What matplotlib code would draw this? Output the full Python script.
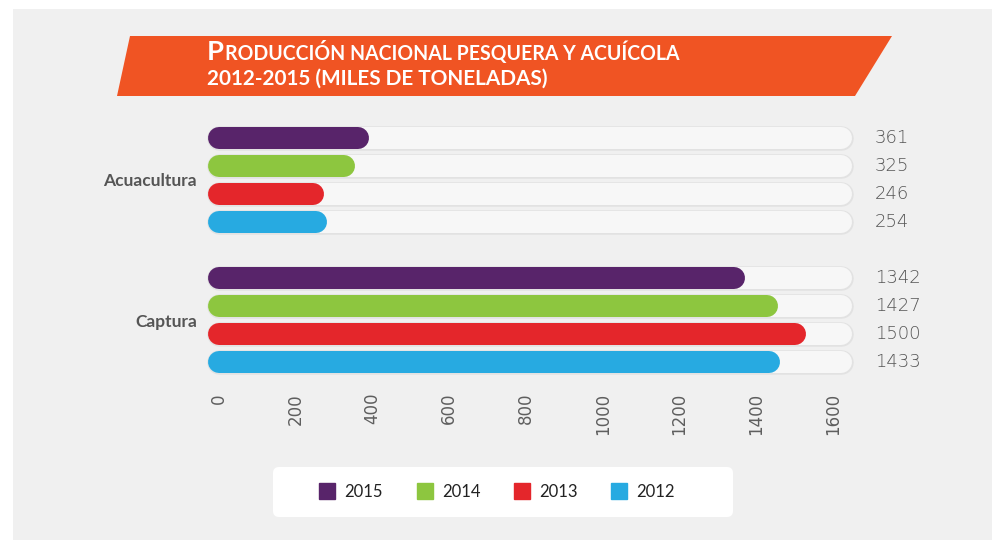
import matplotlib
matplotlib.use("Agg")
import matplotlib.pyplot as plt
from matplotlib.patches import Polygon, Rectangle, FancyBboxPatch
from matplotlib.lines import Line2D
from matplotlib.transforms import IdentityTransform

# ---- data ----
categories = ["Acuacultura", "Captura"]
years = ["2015", "2014", "2013", "2012"]
acuacultura = [361, 325, 246, 254]
captura = [1342, 1427, 1500, 1433]
xticks = [0, 200, 400, 600, 800, 1000, 1200, 1400, 1600]
colors = ["#58246a", "#8dc63f", "#e4262b", "#27aae1"]
track_max = 1620

title_line1_big = "P"
title_line1_rest = "RODUCCIÓN NACIONAL PESQUERA Y ACUÍCOLA"
title_line2 = "2012-2015 (MILES DE TONELADAS)"

W, H = 992, 540
DPI = 100
fig = plt.figure(figsize=(W / DPI, H / DPI), dpi=DPI)
fig.patch.set_facecolor("white")

def fx(px):
    return px / W

def fy(py):
    return 1 - py / H

def pt(px):
    return px * 72 / DPI

# gray background
fig.add_artist(Rectangle((fx(13), 0), 1 - fx(13), fy(9), transform=fig.transFigure,
                         facecolor="#f0f0f0", edgecolor="none", zorder=0))

# title banner
banner = [(fx(130), fy(36)), (fx(892), fy(36)), (fx(855), fy(96)), (fx(117), fy(96))]
fig.add_artist(Polygon(banner, closed=True, transform=fig.transFigure,
                       facecolor="#f05423", edgecolor="none", zorder=1))

renderer = fig.canvas.get_renderer()
tfont = dict(family="Lato", weight="bold", color="white")
# line 2 fitted to width
t2 = fig.text(fx(207), fy(85), title_line2, fontsize=12, va="baseline", ha="left", zorder=2, **tfont)
w = t2.get_window_extent(renderer).width
t2.set_fontsize(12 * (548 - 207) / w)
# line 1 fitted to width
s1 = 12
tp = fig.text(fx(207), fy(60), title_line1_big, fontsize=s1 * 1.4, va="baseline", ha="left", zorder=2, **tfont)
t1 = fig.text(fx(207), fy(60), title_line1_rest, fontsize=s1, va="baseline", ha="left", zorder=2, **tfont)
tot = tp.get_window_extent(renderer).width + 1 + t1.get_window_extent(renderer).width
s1 = s1 * (679 - 207) / tot
tp.set_fontsize(s1 * 1.4)
t1.set_fontsize(s1)
pw = tp.get_window_extent(renderer).width
t1.set_x(fx(207 + pw + 1))

# axes
ax = fig.add_axes([fx(219), (H - 376) / H, (833 - 219) / W, 252 / H])
ax.set_facecolor("none")
for sp in ax.spines.values():
    sp.set_visible(False)
ax.set_xlim(0, 1600)
ax.set_ylim(8.5, -0.5)

groups = [acuacultura, captura]
for gi, vals in enumerate(groups):
    for i, v in enumerate(vals):
        y = gi * 5 + i
        ax.plot([0, track_max], [y, y], lw=pt(24.5), color="#e2e2e2", solid_capstyle="round",
                clip_on=False, zorder=2)
        ax.plot([0, track_max], [y, y], lw=pt(22), color="#f7f7f7", solid_capstyle="round",
                clip_on=False, zorder=3)
        ax.plot([0, v], [y, y], lw=pt(22), color=colors[i], solid_capstyle="round",
                clip_on=False, zorder=4)
        ax.annotate(str(v), xy=(track_max, y), xytext=(pt(34), 0), textcoords="offset points",
                    va="center", ha="left", fontsize=13, color="#555555",
                    family="DejaVu Sans", fontweight="light", annotation_clip=False)

ax.set_xticks(xticks)
ax.set_xticklabels([str(t) for t in xticks], rotation=90, fontsize=12, color="#5e5e5e",
                   family="DejaVu Sans")
ax.tick_params(axis="x", length=0, pad=pt(17))
ax.set_yticks([1.5, 6.5])
ax.set_yticklabels(categories, fontsize=12.5, fontweight="bold", color="#555555", family="Lato")
ax.tick_params(axis="y", length=0, pad=pt(22))

# legend box
fig.add_artist(FancyBboxPatch((273, H - 517), 460, 50, boxstyle="round,pad=0,rounding_size=6",
                              transform=IdentityTransform(), facecolor="white", edgecolor="none",
                              zorder=1))
handles = [Line2D([], [], marker="s", markersize=pt(16), color=c, linestyle="none") for c in colors]
leg = fig.legend(handles, years, ncol=4, loc="center", bbox_to_anchor=(fx(497), fy(492)),
                 frameon=False, prop=dict(family="Lato", size=12), handletextpad=0.55,
                 columnspacing=1.98, handlelength=1)
for t in leg.get_texts():
    t.set_color("#222222")

fig.savefig("out.png", dpi=DPI)
